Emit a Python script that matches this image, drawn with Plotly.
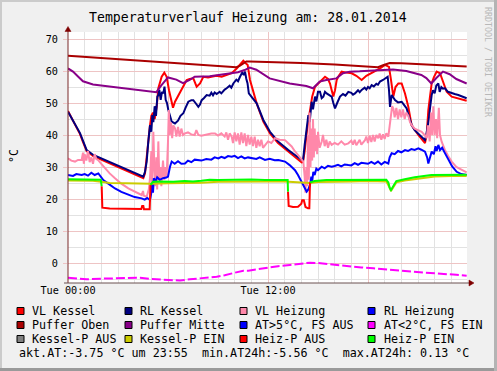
import plotly.graph_objects as go

# ---------------- data (hours of 28.01.2014, °C) ----------------
vl_kessel_h = [0, 0.42, 0.72, 0.92, 1.12, 1.52, 2.5, 3.5, 4.52, 4.62, 4.72, 4.92, 5.0, 5.1, 5.2, 5.32, 5.42, 5.5, 5.62, 5.78, 5.92, 6.06, 6.22, 6.3, 6.42, 6.72, 6.9, 7.12, 7.3, 7.52, 7.65, 7.72, 7.92, 8.12, 8.4, 8.62, 8.9, 9.22, 9.5, 9.82, 10.12, 10.35, 10.52, 10.65, 10.78, 10.92, 11.12, 11.32, 11.72, 12.12, 12.6, 13.22, 14.02,
               14.1, 14.2, 14.35, 14.52, 14.65, 14.82, 15.12, 15.3, 15.42, 15.6, 15.72, 15.82, 15.92, 16.02, 16.12, 16.25, 16.42, 16.7, 17.02, 17.3, 17.62, 17.9, 18.22, 18.5, 18.72, 19.02, 19.26, 19.38, 19.52, 19.65, 19.82, 20.02, 20.22, 20.42, 20.62, 21.02, 21.42, 21.52, 21.62, 21.72, 21.82, 21.95, 22.12, 22.32, 22.52, 22.72, 23.02, 23.42, 23.92]
vl_kessel_v = [47.5, 43.5, 40.3, 37.5, 35.0, 33.4, 31.2, 28.9, 26.5, 28.0, 33.7, 43.0, 46.0, 47.0, 45.0, 48.8, 54.6, 56.0, 58.2, 59.5, 58.2, 54.0, 49.9, 48.5, 50.4, 53.5, 55.0, 57.2, 57.5, 57.7, 56.0, 55.1, 56.1, 58.2, 58.0, 58.2, 58.5, 58.2, 58.8, 59.3, 60.8, 62.0, 63.2, 62.5, 61.9, 57.2, 53.5, 49.9, 44.2, 40.5, 37.5, 34.8, 31.4,
               31.5, 35.0, 42.0, 47.8, 52.0, 55.1, 56.7, 57.5, 58.2, 57.5, 56.1, 54.0, 52.0, 54.0, 57.2, 58.5, 59.8, 59.5, 59.3, 58.5, 57.2, 58.5, 59.3, 60.0, 60.8, 61.9, 61.3, 57.2, 52.0, 55.0, 56.1, 56.1, 53.0, 48.8, 43.0, 40.0, 37.5, 40.0, 47.8, 52.0, 56.1, 58.0, 59.8, 59.3, 56.1, 53.5, 52.0, 51.5, 50.7]

rl_kessel_h = [0, 0.42, 0.72, 0.92, 1.12, 1.52, 2.5, 3.5, 4.52, 4.62, 4.72, 4.82, 4.92, 5.0, 5.06, 5.12, 5.2, 5.28, 5.36, 5.42, 5.48, 5.56, 5.64, 5.72, 5.79, 5.86, 5.94, 6.02, 6.12, 6.22, 6.42, 6.6, 6.75, 6.92, 7.05, 7.22, 7.4, 7.52, 7.65, 7.82, 7.92, 8.02, 8.15, 8.32, 8.5, 8.6, 8.7, 8.8, 8.92, 9.1, 9.2, 9.3, 9.4, 9.52, 9.7, 9.8, 9.92, 10.1, 10.2, 10.32, 10.45, 10.55, 10.62, 10.7, 10.77, 10.85, 11.02, 11.32, 11.72, 12.12, 12.6, 13.22, 14.02,
               14.1, 14.2, 14.3, 14.42, 14.5, 14.62, 14.7, 14.82, 14.9, 15.0, 15.12, 15.22, 15.32, 15.42, 15.52, 15.65, 15.82, 15.92, 16.02, 16.15, 16.32, 16.5, 16.65, 16.82, 17.0, 17.1, 17.22, 17.4, 17.5, 17.62, 17.8, 17.9, 18.0, 18.1, 18.22, 18.35, 18.5, 18.6, 18.72, 18.9, 19.02, 19.18, 19.26, 19.32, 19.42, 19.62, 19.8, 20.02, 20.15, 20.32, 20.47, 20.62, 20.8, 21.02, 21.2, 21.42, 21.5, 21.58, 21.65, 21.72, 21.77, 21.82, 21.9, 22.0, 22.1, 22.22, 22.3, 22.4, 22.5, 22.62, 22.8, 23.02, 23.2, 23.42, 23.7, 23.92]
rl_kessel_v = [47.3, 43.6, 40.6, 37.9, 35.3, 33.75, 31.6, 29.3, 27.0, 28.5, 31.7, 38.0, 43.1, 41.0, 46.2, 44.0, 49.0, 46.0, 52.0, 52.5, 54.1, 51.0, 53.5, 53.0, 55.1, 51.0, 50.0, 47.8, 45.5, 44.2, 43.6, 44.5, 46.0, 46.8, 48.5, 50.4, 50.9, 50.9, 50.0, 48.8, 49.5, 50.9, 51.5, 52.5, 52.3, 53.2, 52.4, 53.3, 52.8, 53.5, 53.0, 53.8, 54.2, 54.6, 55.4, 54.8, 56.1, 57.3, 56.8, 58.2, 59.5, 58.8, 59.8, 57.5, 56.2, 53.0, 52.0, 49.9, 44.7, 41.0, 38.0, 35.3, 32.2,
               32.0, 36.9, 42.0, 46.2, 44.0, 50.4, 48.0, 52.0, 50.5, 53.5, 53.5, 51.5, 52.0, 53.5, 53.0, 52.5, 52.0, 50.0, 48.3, 50.0, 52.0, 52.8, 52.3, 53.5, 53.2, 52.6, 53.0, 54.0, 53.4, 54.1, 54.8, 54.2, 55.0, 54.6, 55.6, 55.2, 56.0, 55.7, 56.7, 57.2, 57.7, 58.2, 54.0, 48.8, 52.5, 50.9, 50.2, 50.4, 49.5, 48.3, 45.5, 43.1, 41.5, 40.5, 39.5, 38.4, 40.0, 42.1, 45.0, 48.3, 51.0, 52.5, 54.0, 53.0, 55.5, 56.1, 53.5, 55.0, 54.5, 54.6, 53.5, 53.0, 52.8, 52.5, 52.0, 51.5]

vl_heizung_h = [0, 0.2, 0.42, 0.6, 0.82, 0.9, 0.95, 1.0, 1.1, 1.2, 1.3, 1.4, 1.5, 1.6, 1.7, 1.8, 2.0, 2.22, 2.5, 2.82, 3.2, 3.62, 4.0, 4.3, 4.42, 4.5, 4.55, 4.72, 4.85, 4.92, 5.0, 5.05, 5.12, 5.18, 5.25, 5.3, 5.35, 5.42, 5.48, 5.55, 5.6, 5.7, 5.78, 5.85, 5.92, 6.0, 6.05, 6.1, 6.18, 6.25, 6.32, 6.42, 6.5, 6.6, 6.7, 6.8, 6.9, 7.02, 7.2, 7.4, 7.6, 7.7, 7.82, 8.0, 8.3, 8.6, 8.82, 9.0, 9.2, 9.4, 9.5, 9.6, 9.7, 9.82, 9.9, 10.0, 10.1, 10.2, 10.3, 10.4, 10.5, 10.6, 10.7, 10.8, 10.9, 11.0, 11.1, 11.2, 11.3, 11.4, 11.5, 11.6, 11.7, 11.82, 12.0, 12.2, 12.42, 12.7, 13.02, 13.2, 13.42, 13.6, 13.82, 14.0, 14.12,
                14.2, 14.25, 14.3, 14.35, 14.4, 14.45, 14.5, 14.55, 14.6, 14.65, 14.7, 14.75, 14.8, 14.85, 14.9, 14.95, 15.0, 15.1, 15.22, 15.3, 15.4, 15.5, 15.6, 15.7, 15.82, 16.0, 16.2, 16.4, 16.6, 16.82, 17.0, 17.1, 17.2, 17.3, 17.5, 17.6, 17.82, 17.9, 18.0, 18.1, 18.2, 18.3, 18.4, 18.5, 18.62, 18.7, 18.8, 18.9, 19.0, 19.1, 19.22, 19.3, 19.38, 19.45, 19.52, 19.6, 19.7, 19.8, 19.9, 20.0, 20.1, 20.2, 20.3, 20.42, 20.52, 20.62, 20.8, 21.0, 21.22, 21.4, 21.52, 21.6, 21.7, 21.78, 21.85, 21.92, 22.0, 22.08, 22.15, 22.25, 22.32, 22.42, 22.6, 22.8, 23.02, 23.3, 23.62, 23.92]
vl_heizung_v = [32.7, 32.0, 31.7, 32.2, 32.2, 34.5, 31.0, 34.0, 32.0, 35.0, 31.5, 33.0, 31.0, 34.0, 32.5, 32.2, 31.0, 29.6, 28.0, 26.5, 24.8, 23.3, 22.2, 21.5, 21.25, 22.5, 21.0, 20.7, 23.0, 26.5, 35.0, 23.0, 41.0, 30.0, 24.0, 33.0, 23.0, 38.0, 26.0, 30.0, 24.0, 32.0, 26.0, 30.0, 27.0, 38.0, 47.8, 40.0, 44.0, 39.0, 43.0, 42.1, 39.5, 42.5, 39.5, 42.0, 40.0, 40.5, 40.8, 40.2, 40.0, 41.5, 40.0, 39.8, 40.2, 40.5, 40.5, 39.8, 40.5, 39.5, 40.8, 38.5, 40.5, 39.5, 37.5, 40.8, 38.0, 40.5, 37.0, 40.8, 37.5, 40.5, 36.5, 40.0, 37.0, 39.5, 36.5, 39.5, 36.0, 38.5, 36.5, 38.5, 36.0, 36.9, 38.0, 37.5, 39.0, 38.5, 38.4, 37.5, 36.4, 35.0, 33.75, 32.5, 31.7,
                27.0, 22.0, 30.0, 24.0, 40.0, 26.0, 47.0, 30.0, 42.0, 32.0, 45.0, 33.0, 42.0, 35.0, 40.0, 34.0, 41.0, 36.0, 37.9, 40.0, 36.5, 38.5, 36.0, 38.0, 36.9, 37.5, 37.0, 38.0, 37.0, 37.4, 38.2, 37.0, 38.5, 36.8, 38.5, 37.0, 38.4, 39.5, 37.5, 39.8, 37.8, 40.0, 38.0, 40.0, 39.0, 40.5, 38.5, 40.2, 38.8, 40.5, 39.5, 44.0, 46.2, 49.0, 48.3, 45.5, 48.5, 45.0, 48.0, 45.5, 48.0, 45.0, 47.0, 46.0, 44.0, 43.1, 42.0, 41.5, 41.0, 40.0, 39.0, 43.0, 38.0, 47.0, 40.0, 49.0, 40.0, 45.0, 39.0, 48.5, 40.0, 37.9, 35.5, 33.5, 31.7, 30.0, 29.0, 28.3]

rl_heizung_h = [0, 0.3, 0.5, 0.82, 1.0, 1.2, 1.4, 1.6, 1.82, 1.95, 2.12, 2.5, 2.82, 3.2, 3.62, 4.0, 4.42, 4.6, 4.75, 4.92, 5.0, 5.06, 5.1, 5.15, 5.25, 5.35, 5.5, 5.7, 5.9, 6.0, 6.12, 6.22, 6.4, 6.6, 6.8, 7.02, 7.2, 7.4, 7.6, 7.82, 8.0, 8.3, 8.6, 8.8, 9.02, 9.2, 9.4, 9.6, 9.82, 10.0, 10.2, 10.4, 10.6, 10.8, 11.02, 11.3, 11.5, 11.82, 12.1, 12.4, 12.62, 12.8, 13.02, 13.3, 13.62, 13.8, 14.02, 14.2, 14.32, 14.42, 14.52, 14.6, 14.65, 14.72, 14.8, 14.9, 15.0, 15.22, 15.4, 15.6, 15.82, 16.0, 16.2, 16.4, 16.6, 16.82, 17.0, 17.2, 17.4, 17.6, 17.82, 18.0, 18.2, 18.4, 18.6, 18.8, 19.0, 19.22, 19.3, 19.42, 19.6, 19.8, 20.0, 20.22, 20.4, 20.6, 20.8, 21.02, 21.2, 21.42, 21.55, 21.62, 21.72, 21.82, 21.95, 22.05, 22.12, 22.22, 22.32, 22.45, 22.6, 22.82, 23.05, 23.32, 23.6, 23.92]
rl_heizung_v = [27.5, 27.2, 27.8, 27.5, 27.8, 27.3, 28.2, 27.5, 28.0, 27.2, 25.9, 24.5, 23.3, 22.2, 21.25, 20.6, 20.2, 19.8, 20.3, 19.7, 22.0, 24.9, 22.0, 26.5, 25.5, 26.8, 26.0, 26.5, 26.7, 27.0, 30.1, 31.7, 31.0, 31.8, 31.0, 31.1, 32.0, 31.5, 32.3, 32.2, 32.0, 32.5, 32.3, 33.0, 32.7, 33.2, 32.8, 33.4, 33.2, 33.5, 32.8, 33.3, 32.7, 33.0, 32.7, 32.5, 33.0, 32.2, 32.6, 32.1, 32.2, 31.9, 31.7, 30.6, 29.0, 27.5, 25.4, 23.5, 22.3, 23.0, 24.4, 27.0, 25.5, 28.5, 27.5, 29.5, 29.0, 30.1, 29.6, 30.4, 30.1, 30.3, 30.7, 30.2, 30.8, 30.6, 30.5, 31.2, 30.7, 31.3, 31.1, 31.0, 31.6, 31.0, 31.7, 30.8, 31.6, 31.1, 33.0, 34.3, 34.0, 35.0, 34.6, 35.3, 35.0, 35.6, 35.3, 35.8, 35.4, 34.8, 33.0, 31.1, 33.0, 34.8, 34.0, 36.5, 35.0, 36.9, 35.3, 36.0, 34.5, 32.2, 30.2, 28.5, 27.8, 27.5]

puffer_oben_h = [0, 2, 4, 6, 8, 10.1, 10.3, 10.5, 10.7, 10.9, 12, 14, 16, 18, 18.6, 18.9, 19.3, 20, 22, 23.92]
puffer_oben_v = [64.8, 64.1, 63.4, 62.7, 62.0, 61.2, 61.6, 62.3, 63.0, 63.0, 62.9, 62.5, 62.0, 61.5, 61.2, 61.8, 62.5, 62.4, 62.0, 61.4]

puffer_mitte_h = [0, 0.3, 0.6, 0.9, 1.5, 3, 4.5, 5.0, 5.3, 5.6, 6.0, 6.5, 6.9, 7.3, 7.6, 8.5, 9.5, 10.2, 10.6, 10.9, 11.3, 12.1, 13.3, 14.3, 14.7, 15.1, 15.5, 16.1, 16.5, 16.9, 17.5, 18.3, 19.0, 19.5, 20.3, 21.2, 21.5, 21.8, 22.1, 22.5, 22.9, 23.3, 23.92]
puffer_mitte_v = [60.8, 59.8, 58.3, 56.8, 55.8, 54.8, 54.0, 53.5, 53.4, 55.5, 58.0, 57.3, 56.2, 57.2, 58.2, 58.4, 59.0, 59.6, 60.3, 61.1, 60.4, 57.7, 56.1, 55.3, 54.6, 56.7, 57.2, 57.7, 59.3, 59.8, 59.9, 60.2, 60.3, 60.5, 60.0, 58.75, 57.8, 56.1, 57.8, 59.8, 59.0, 57.5, 56.1]

at_hi_h = []   # AT>5°C, FS AUS: no values this day
at_hi_v = []

at_lo_h = [0, 0.5, 1.1, 2.0, 2.92, 3.6, 4.32, 5.0, 5.92, 6.3, 6.72, 7.3, 7.92, 8.4, 8.92, 9.4, 9.92, 10.52, 10.82, 11.4, 11.92, 12.6, 13.32, 13.9, 14.52, 15.0, 15.52, 16.2, 16.92, 17.6, 18.32, 19.0, 19.72, 20.5, 21.32, 22.0, 22.72, 23.3, 23.92]
at_lo_v = [-4.6, -4.8, -5.1, -4.9, -4.8, -4.6, -4.6, -5.0, -5.3, -5.5, -5.5, -5.1, -4.8, -4.6, -4.3, -3.8, -3.2, -2.4, -2.4, -1.9, -1.4, -1.0, -0.6, -0.2, 0.1, 0.0, -0.3, -0.7, -1.15, -1.4, -1.65, -2.0, -2.4, -2.7, -3.0, -3.2, -3.4, -3.7, -4.0]

kessel_p_aus_h = []  # not visible this day
kessel_p_aus_v = []

kessel_p_ein_h = [0, 1.5, 2.0, 2.5, 3.5, 4.5, 5.0, 6, 7, 8, 9, 10, 11, 12, 13, 13.5, 14.5, 15, 16, 17, 18, 19.1, 19.3, 19.38, 19.5, 19.7, 20.2, 21, 22, 23, 23.92]
kessel_p_ein_v = [25.8, 25.7, 25.4, 25.0, 24.9, 24.8, 24.8, 24.9, 24.9, 25.1, 25.4, 25.5, 25.6, 25.5, 25.5, 25.3, 25.0, 25.3, 25.5, 25.5, 25.6, 25.5, 23.5, 22.5, 23.5, 25.2, 25.8, 26.4, 27.0, 27.2, 27.2]

heiz_p_aus_h = [2.02, 2.06, 2.5, 3.0, 3.5, 4.0, 4.4, 4.45, 4.52, 4.56, 4.9, 4.95, None, 13.2, 13.24, 13.5, 13.8, 14.0, 14.05, 14.15, 14.25, 14.4, 14.48, 14.52]
heiz_p_aus_v = [24.0, 17.3, 17.0, 17.0, 16.9, 16.9, 16.9, 17.8, 17.8, 16.8, 16.8, 24.4, None, 22.3, 17.8, 17.5, 17.6, 18.5, 19.6, 19.6, 17.5, 17.1, 17.1, 25.2]

heiz_p_ein_h = [0, 0.5, 1.0, 1.5, 1.97, 2.02, None, 4.95, 5.1, 5.5, 6.32, 7.0, 7.5, 8.0, 8.5, 9.0, 10, 11, 11.82, 12.5, 13.18, 13.2, None, 14.52, 14.8, 15.5, 16.5, 17.5, 18.5, 19.1, 19.22, 19.3, 19.38, 19.5, 19.7, 20.2, 20.8, 21.8, 22.5, 23.2, 23.92]
heiz_p_ein_v = [26.2, 26.1, 26.2, 26.0, 26.0, 24.0, None, 24.4, 25.4, 25.5, 25.4, 25.6, 25.5, 25.7, 26.0, 25.9, 26.0, 26.1, 25.9, 26.0, 25.9, 22.3, None, 25.2, 25.6, 25.9, 25.9, 26.0, 26.0, 26.0, 25.2, 23.5, 22.8, 24.0, 25.6, 26.2, 26.8, 27.5, 27.6, 27.7, 27.6]

legend_labels = ["VL Kessel", "RL Kessel", "VL Heizung", "RL Heizung",
                 "Puffer Oben", "Puffer Mitte", "AT>5°C, FS AUS", "AT<2°C, FS EIN",
                 "Kessel-P AUS", "Kessel-P EIN", "Heiz-P AUS", "Heiz-P EIN"]
legend_colors = ["#FF0000", "#000080", "#FF88AA", "#0000FF",
                 "#AA0000", "#880088", "#0000FF", "#FF00FF",
                 "#808080", "#CCCC00", "#FF0000", "#00FF00"]

title_text = "Temperaturverlauf Heizung am: 28.01.2014"
stat_text = "akt.AT:-3.75 °C um 23:55  min.AT24h:-5.56 °C  max.AT24h: 0.13 °C"
x_tick_vals = [0, 6, 12, 18]
x_tick_text = ["Tue 00:00", "", "Tue 12:00", ""]
y_tick_vals = [0, 10, 20, 30, 40, 50, 60, 70]

# ---------------- figure ----------------
W, H = 497, 371
L, R, T, B = 68, 467, 32, 283
MONO = "DejaVu Sans Mono"


def px(x):
    return (x - L) / (R - L)


def py(y):
    return (B - y) / (B - T)


series = [
    (vl_kessel_h, vl_kessel_v, 0, None),
    (rl_kessel_h, rl_kessel_v, 1, None),
    (vl_heizung_h, vl_heizung_v, 2, None),
    (rl_heizung_h, rl_heizung_v, 3, None),
    (puffer_oben_h, puffer_oben_v, 4, None),
    (puffer_mitte_h, puffer_mitte_v, 5, None),
    (at_hi_h, at_hi_v, 6, None),
    (at_lo_h, at_lo_v, 7, "9px,3px"),
    (kessel_p_aus_h, kessel_p_aus_v, 8, None),
    (kessel_p_ein_h, kessel_p_ein_v, 9, None),
    (heiz_p_aus_h, heiz_p_aus_v, 10, None),
    (heiz_p_ein_h, heiz_p_ein_v, 11, None),
]

fig = go.Figure()
for xs, ys, idx, dash in series:
    line = dict(color=legend_colors[idx], width=2)
    if dash:
        line["dash"] = dash
    fig.add_trace(go.Scatter(x=xs, y=ys, mode="lines", line=line,
                             name=legend_labels[idx], showlegend=False,
                             connectgaps=False, hoverinfo="skip"))

shapes = []
annotations = []

# page shading frame
shapes += [
    dict(type="rect", xref="paper", yref="paper", x0=px(0), x1=px(W), y0=py(0), y1=py(2),
         fillcolor="#CBCBCB", line=dict(width=0), layer="below"),
    dict(type="rect", xref="paper", yref="paper", x0=px(0), x1=px(2), y0=py(0), y1=py(H),
         fillcolor="#CBCBCB", line=dict(width=0), layer="below"),
    dict(type="rect", xref="paper", yref="paper", x0=px(0), x1=px(W), y0=py(H - 3), y1=py(H),
         fillcolor="#9A9A9A", line=dict(width=0), layer="below"),
    dict(type="rect", xref="paper", yref="paper", x0=px(W - 3), x1=px(W), y0=py(0), y1=py(H),
         fillcolor="#B4B4B4", line=dict(width=0), layer="below"),
]

# axis lines with arrows
shapes += [
    dict(type="line", xref="paper", yref="paper", x0=px(L), x1=px(L), y0=py(B), y1=py(29),
         line=dict(color="#7A2A2A", width=1), layer="above"),
    dict(type="line", xref="paper", yref="paper", x0=px(64), x1=px(470), y0=py(B), y1=py(B),
         line=dict(color="#6A5050", width=1), layer="above"),
    dict(type="path", xref="paper", yref="paper",
         path="M {} {} L {} {} L {} {} Z".format(px(65), py(31.5), px(71), py(31.5), px(68), py(26.5)),
         fillcolor="#7F0000", line=dict(color="#7F0000", width=0.5), layer="above"),
    dict(type="path", xref="paper", yref="paper",
         path="M {} {} L {} {} L {} {} Z".format(px(469), py(280), px(469), py(286), px(474), py(283)),
         fillcolor="#7F0000", line=dict(color="#7F0000", width=0.5), layer="above"),
]

# title, unit, credit
annotations.append(dict(text=title_text, xref="paper", yref="paper", x=px(248), y=py(17),
                        showarrow=False, xanchor="center", yanchor="middle",
                        font=dict(family=MONO, size=13.2, color="#000000")))
annotations.append(dict(text="°C", xref="paper", yref="paper", x=px(14), y=py(156),
                        showarrow=False, xanchor="center", yanchor="middle", textangle=-90,
                        font=dict(family=MONO, size=11.7, color="#000000")))
annotations.append(dict(text="RRDTOOL / TOBI OETIKER", xref="paper", yref="paper", x=px(488), y=py(62),
                        showarrow=False, xanchor="center", yanchor="middle", textangle=90,
                        font=dict(family=MONO, size=8.3, color="#B8B8B8")))

# legend (4 columns x 3 rows)
col_sq = [17, 125, 240, 368]
col_tx = [30, 138, 253, 382]
row_y = [311, 325, 339]
for i, (lab, colr) in enumerate(zip(legend_labels, legend_colors)):
    r, c = divmod(i, 4)
    yc = row_y[r]
    shapes.append(dict(type="rect", xref="paper", yref="paper",
                       x0=px(col_sq[c]), x1=px(col_sq[c] + 7), y0=py(yc - 3.5), y1=py(yc + 3.5),
                       fillcolor=colr, line=dict(color="#000000", width=1), layer="above"))
    annotations.append(dict(text=lab, xref="paper", yref="paper", x=px(col_tx[c]), y=py(yc),
                            showarrow=False, xanchor="left", yanchor="middle",
                            font=dict(family=MONO, size=11.7, color="#000000")))
annotations.append(dict(text=stat_text.replace(" ", "\u00a0"), xref="paper", yref="paper",
                        x=px(16.5), y=py(353), showarrow=False, xanchor="left", yanchor="middle",
                        font=dict(family=MONO, size=11.7, color="#000000")))

fig.update_layout(
    width=W, height=H, autosize=False,
    margin=dict(l=L, r=W - R, t=T, b=H - B, pad=0),
    paper_bgcolor="#F0F0F0", plot_bgcolor="#FFFFFF",
    showlegend=False,
    shapes=shapes, annotations=annotations,
    xaxis=dict(range=[0, 23.94], tickvals=x_tick_vals, ticktext=x_tick_text,
               showgrid=True, gridcolor="#EEC4C4", gridwidth=1,
               minor=dict(dtick=1, tick0=0, showgrid=True, gridcolor="#E2E2E2", gridwidth=1),
               zeroline=False, showline=False, ticks="",
               tickfont=dict(family=MONO, size=10.2, color="#000000"),
               fixedrange=True),
    yaxis=dict(range=[-6.25, 72.19], tickvals=y_tick_vals,
               showgrid=True, gridcolor="#EEC4C4", gridwidth=1,
               minor=dict(dtick=5, tick0=0, showgrid=True, gridcolor="#E2E2E2", gridwidth=1),
               zeroline=False, showline=False, ticks="outside", ticklen=4, tickcolor="#EEC4C4",
               ticklabelstandoff=3,
               tickfont=dict(family=MONO, size=10.2, color="#000000"),
               fixedrange=True),
)

fig.write_html("out.html", config={"displayModeBar": False},
               post_script="document.body.style.margin='0';document.body.style.overflow='hidden';")
